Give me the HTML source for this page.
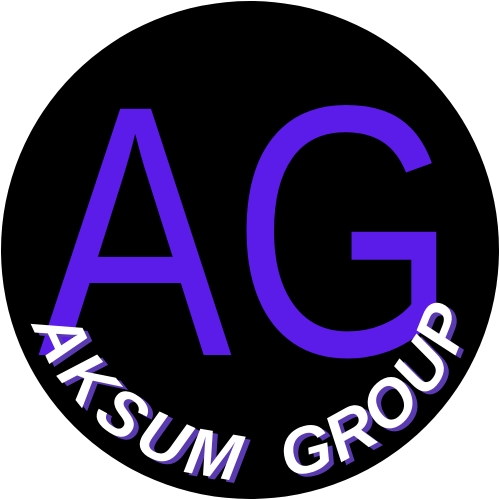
<!DOCTYPE html>
<html><head><meta charset="utf-8"><style>html,body{margin:0;padding:0;background:#fff;}svg{display:block}</style></head>
<body>
<svg width="500" height="500" viewBox="0 0 500 500">
  <defs>
    <path id="arc" d="M 20 250 A 230 230 0 0 0 480 250"/>
  </defs>
  <circle cx="250" cy="250" r="249" fill="#000"/>
  <text x="38" y="355" font-family="Liberation Sans, sans-serif" font-size="358" fill="#5b1be8" textLength="420" lengthAdjust="spacingAndGlyphs">AG</text>
  <g font-family="Liberation Sans, sans-serif" font-weight="bold" font-style="italic" font-size="66">
    <g fill="#5a3ab0" transform="translate(5,3)">
      <text><textPath href="#arc" startOffset="76" textLength="272" lengthAdjust="spacing">AKSUM</textPath></text>
      <text><textPath href="#arc" startOffset="398" textLength="258" lengthAdjust="spacing">GROUP</textPath></text>
    </g>
    <g fill="#fff">
      <text><textPath href="#arc" startOffset="76" textLength="272" lengthAdjust="spacing">AKSUM</textPath></text>
      <text><textPath href="#arc" startOffset="398" textLength="258" lengthAdjust="spacing">GROUP</textPath></text>
    </g>
  </g>
</svg>
</body></html>
